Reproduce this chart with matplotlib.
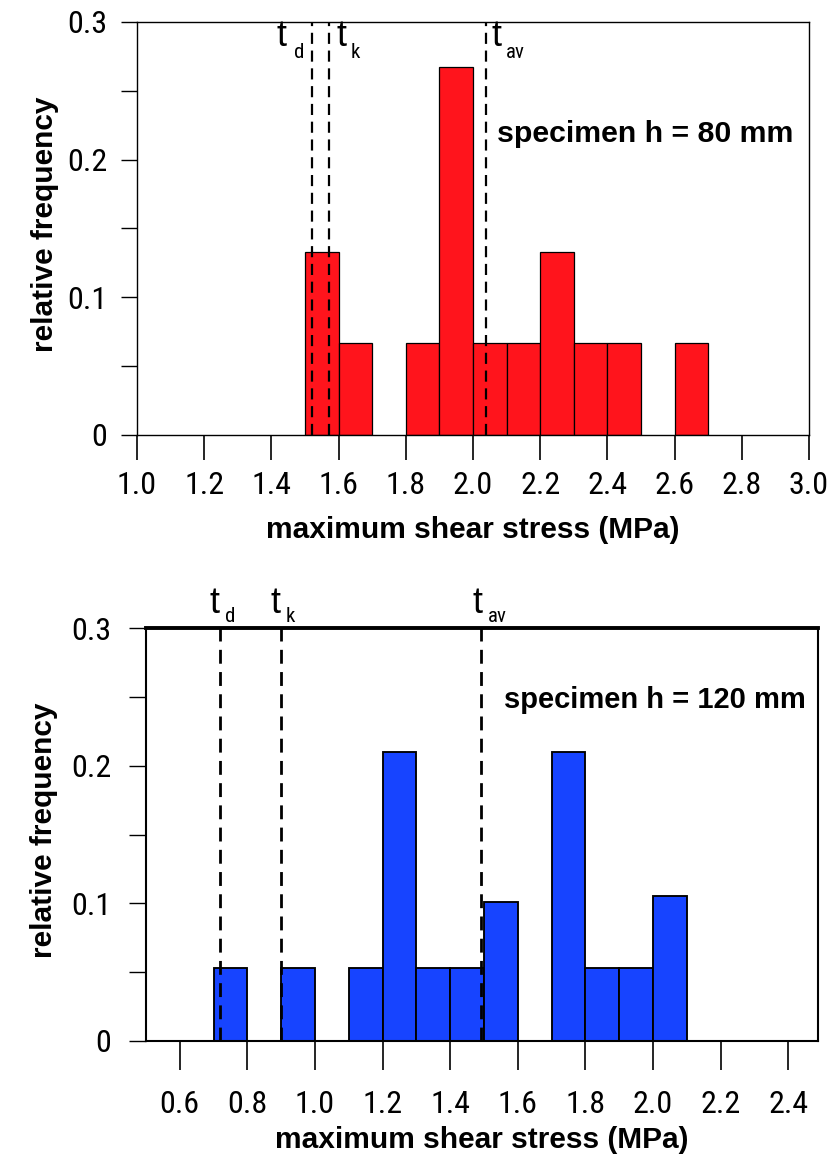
import matplotlib
matplotlib.use("Agg")
import matplotlib.pyplot as plt
from matplotlib.ticker import FixedLocator

# ---------------- data ----------------
top_bin_left = [1.5, 1.6, 1.8, 1.9, 2.0, 2.1, 2.2, 2.3, 2.4, 2.6]
top_freq = [0.133, 0.067, 0.067, 0.267, 0.067, 0.067, 0.133, 0.067, 0.067, 0.067]
top_lines = {"d": 1.52, "k": 1.57, "av": 2.04}
top_text = "specimen h = 80 mm"
top_xticks = [1.0, 1.2, 1.4, 1.6, 1.8, 2.0, 2.2, 2.4, 2.6, 2.8, 3.0]

bot_bin_left = [0.7, 0.9, 1.1, 1.2, 1.3, 1.4, 1.5, 1.7, 1.8, 1.9, 2.0]
bot_freq = [0.053, 0.053, 0.053, 0.21, 0.053, 0.053, 0.101, 0.21, 0.053, 0.053, 0.105]
bot_lines = {"d": 0.72, "k": 0.90, "av": 1.49}
bot_text = "specimen h = 120 mm"
bot_xticks = [0.6, 0.8, 1.0, 1.2, 1.4, 1.6, 1.8, 2.0, 2.2, 2.4]

bin_width = 0.1
yticks = [0.0, 0.1, 0.2, 0.3]
ytick_labels = ["0", "0.1", "0.2", "0.3"]
yminor = [0.05, 0.15, 0.25]
xlabel = "maximum shear stress (MPa)"
ylabel = "relative frequency"

NARROW = ["Roboto Condensed", "Liberation Sans", "DejaVu Sans"]
SANS = ["Liberation Sans", "DejaVu Sans"]

fig = plt.figure(figsize=(8.31, 11.63), dpi=100)

W, H = 831, 1163
def axrect(l, r, t, b):
    return [l / W, 1 - b / H, (r - l) / W, (b - t) / H]

ax1 = fig.add_axes(axrect(137, 809, 22, 435))
ax2 = fig.add_axes(axrect(146, 818, 628, 1041))


def style(ax, xlim, xticks, bar_left, freq, color, lines, text, text_xy,
          text_size, spine_lw, top_lw, xtick_len, ytick_len, xpad, ypad,
          dash_lw, label_cfg, ylab_x):
    ax.bar(bar_left, freq, width=bin_width, align="edge", color=color,
           edgecolor="black", linewidth=spine_lw * 0.9, zorder=2)
    ax.set_xlim(*xlim)
    ax.set_ylim(0, 0.3)
    ax.xaxis.set_major_locator(FixedLocator(xticks))
    ax.set_xticklabels([f"{v:.1f}" for v in xticks])
    ax.yaxis.set_major_locator(FixedLocator(yticks))
    ax.set_yticklabels(ytick_labels)
    ax.yaxis.set_minor_locator(FixedLocator(yminor))
    ax.tick_params(axis="x", direction="out", length=xtick_len, width=1.2,
                   pad=xpad, labelsize=23, colors="black")
    ax.tick_params(axis="y", which="both", direction="out", length=ytick_len,
                   width=1.0, pad=ypad, labelsize=23, colors="black")
    for lab in ax.get_xticklabels() + ax.get_yticklabels():
        lab.set_family(NARROW)
    for s in ax.spines.values():
        s.set_linewidth(spine_lw)
        s.set_color("black")
    ax.spines["top"].set_linewidth(top_lw)
    for key, xv in lines.items():
        ax.axvline(xv, color="black", linestyle=(0, (5, 3)), linewidth=dash_lw,
                   zorder=3)
        (tdx, tdy), (sdx, sdy) = label_cfg[key]
        ax.annotate("t", xy=(xv, 1.0), xycoords=("data", "axes fraction"),
                    xytext=(tdx, tdy), textcoords="offset points",
                    ha="left", va="baseline", fontsize=26, family=SANS,
                    annotation_clip=False)
        ax.annotate(key, xy=(xv, 1.0), xycoords=("data", "axes fraction"),
                    xytext=(sdx, sdy), textcoords="offset points",
                    ha="left", va="baseline", fontsize=15, family=NARROW,
                    annotation_clip=False)
    ax.text(text_xy[0], text_xy[1], text, transform=ax.transAxes,
            ha="left", va="center", fontsize=text_size, fontweight="bold",
            family=SANS)
    ax.set_xlabel(xlabel, fontsize=21.5, fontweight="bold", family=SANS)
    ax.set_ylabel(ylabel, fontsize=21.5, fontweight="bold", family=SANS)
    ax.xaxis.label.set_va("center")
    ax.yaxis.label.set_va("center")
    ax.yaxis.set_label_coords(ylab_x, 0.51)


# label offsets (points) of "t" and its subscript relative to each line's top
top_cfg = {
    "d": ((-25, -17), (-13, -26)),
    "k": ((6, -17), (16, -26)),
    "av": ((4, -17), (14, -26)),
}
style(ax1, (1.0, 3.0), top_xticks, top_bin_left, top_freq, "#FF141C",
      top_lines, top_text, (0.535, 0.73), 21.8,
      spine_lw=1.0, top_lw=1.0, xtick_len=18, ytick_len=11.5, xpad=8, ypad=10,
      dash_lw=1.6, label_cfg=top_cfg, ylab_x=-0.137)
ax1.xaxis.set_label_coords(0.5, -0.230)

bot_cfg = {
    "d": ((-8, 11), (3, 4)),
    "k": ((-8, 11), (3, 4)),
    "av": ((-6, 11), (5, 4)),
}
style(ax2, (0.5, 2.488), bot_xticks, bot_bin_left, bot_freq, "#1744FF",
      bot_lines, bot_text, (0.533, 0.825), 21.0,
      spine_lw=1.5, top_lw=2.8, xtick_len=21, ytick_len=12, xpad=14, ypad=13,
      dash_lw=2.0, label_cfg=bot_cfg, ylab_x=-0.152)
ax2.xaxis.set_label_coords(0.5, -0.240)

fig.savefig("out.png", dpi=100)
